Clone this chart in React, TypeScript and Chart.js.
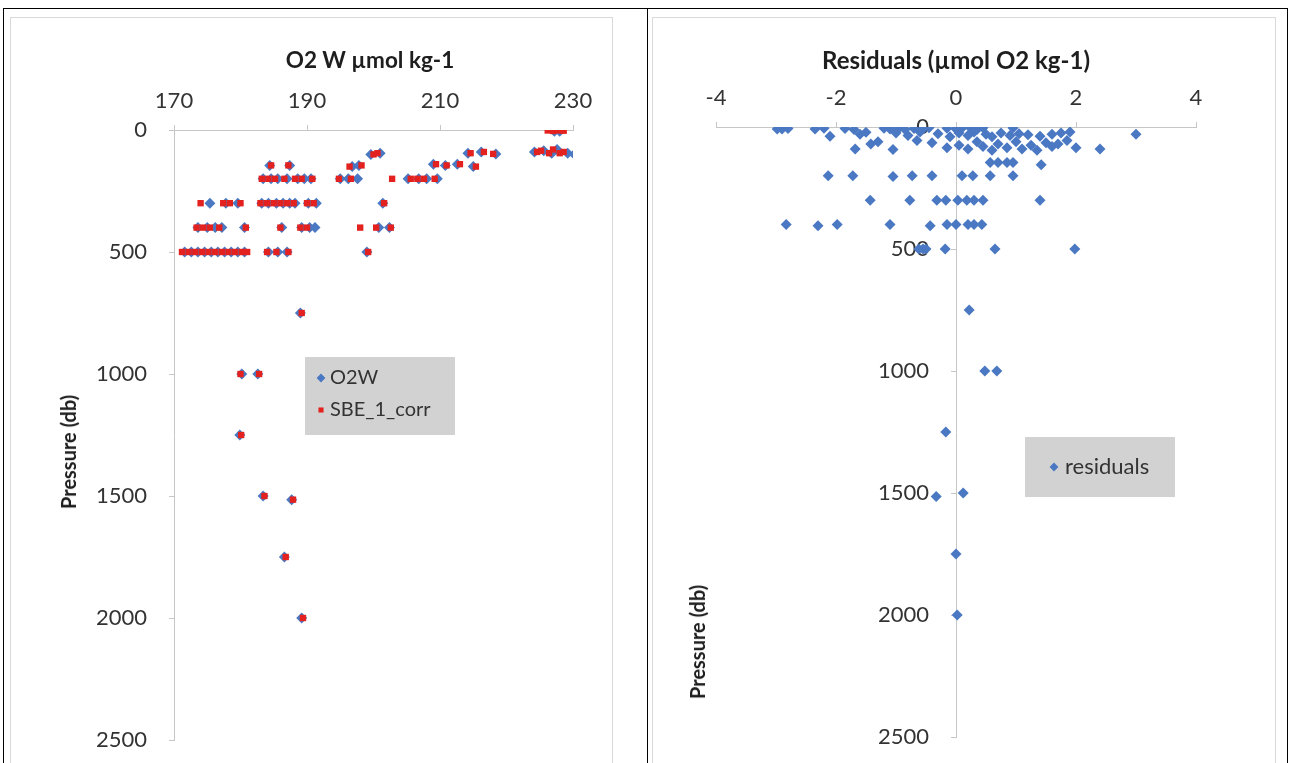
import React, { useEffect, useRef } from 'react';
import { Chart, registerables } from 'chart.js';

Chart.register(...registerables);

// ---------------- DATA ----------------
// Left chart: O2W (bottle oxygen) – pressure (db) and value (µmol/kg)
const o2wPressure = [
  5, 5,
  90, 85, 95, 80, 95, 100,
  95, 90, 98,
  100, 95,
  145, 145, 150, 145, 140, 145, 140, 150,
  200, 200, 200, 200, 200, 200, 200, 200, 200, 200, 200, 200, 200, 200,
  300, 300, 300, 300, 300, 300, 300, 300, 300, 300, 300, 300,
  400, 400, 400, 400, 400, 400, 400, 400, 400, 400, 400,
  500, 500, 500, 500, 500, 500, 500, 500, 500, 500, 500, 500, 500, 500,
  750, 1000, 1000, 1250, 1500, 1515, 1750, 2000,
];
const o2wValue = [
  227.2, 228.0,
  224.2, 225.6, 226.8, 227.6, 229.2, 230.2,
  214.2, 216.2, 218.4,
  199.6, 201.0,
  184.4, 187.4, 196.8, 197.8, 209.0, 210.8, 212.6, 215.0,
  183.4, 184.6, 185.6, 187.0, 188.6, 189.6, 190.6, 195.0, 196.2, 197.6, 205.2, 206.8, 208.0, 209.6,
  175.4, 177.8, 179.6, 183.2, 184.2, 185.4, 186.4, 187.4, 188.2, 190.2, 191.4, 201.4,
  173.6, 175.0, 176.2, 177.2, 180.6, 186.2, 189.2, 190.4, 191.2, 200.8, 202.4,
  171.6, 172.6, 173.6, 174.6, 175.6, 176.6, 177.6, 178.6, 179.6, 180.6, 184.2, 185.6, 187.0, 199.0,
  189.0, 180.2, 182.6, 179.9, 183.4, 187.7, 186.6, 189.2,
];

// Left chart: SBE_1_corr (corrected sensor oxygen)
const sbePressure = [
  2, 4, 2, 3,
  90, 85, 95, 80, 95, 90,
  95, 90, 98,
  100, 95,
  145, 145, 150, 145, 140, 145, 140, 150,
  200, 200, 200, 200, 200, 200, 200, 200, 200, 200, 200, 200, 200, 200,
  300, 300, 300, 300, 300, 300, 300, 300, 300, 300, 300, 300, 300,
  400, 400, 400, 400, 400, 400, 400, 400, 400, 400, 400,
  500, 500, 500, 500, 500, 500, 500, 500, 500, 500, 500, 500, 500, 500, 500,
  750, 1000, 1000, 1250, 1500, 1515, 1750, 2000,
];
const sbeValue = [
  226.2, 227.0, 227.8, 228.6,
  224.6, 225.2, 226.4, 227.0, 228.0, 228.6,
  214.6, 216.6, 218.0,
  200.0, 200.6,
  184.6, 187.2, 196.4, 198.2, 209.4, 211.0, 213.0, 215.4,
  183.2, 184.2, 185.2, 186.6, 188.2, 189.2, 190.8, 194.8, 196.6, 202.8, 205.6, 206.6, 207.6, 209.2,
  174.0, 177.4, 178.4, 180.0, 183.0, 184.0, 185.0, 186.0, 187.0, 188.0, 190.0, 191.0, 201.6,
  173.4, 174.4, 175.4, 176.8, 180.8, 186.0, 189.0, 190.0, 198.0, 200.4, 202.6,
  171.2, 172.2, 173.2, 174.2, 175.2, 176.2, 177.2, 178.2, 179.2, 180.2, 181.0, 184.0, 185.4, 187.2, 199.2,
  189.2, 180.0, 182.8, 180.1, 183.6, 187.9, 186.8, 189.4,
];

// Right chart: residuals (µmol O2 /kg) vs pressure (db)
const residPressure = [
  8, 8, 6, 8, 5, 6, 10, 5, 8, 4, 10, 6, 8, 3, 5, 8, 4, 6, 10, 3, 4,
  38, 30, 22, 25, 35, 20, 28, 40, 25, 35, 20, 30, 40, 25, 35, 28, 32, 38, 30, 25, 20, 30,
  90, 70, 60, 92, 55, 65, 85, 75, 90, 60, 80, 95, 70, 85, 60, 90, 75, 95, 65, 80, 70, 55, 85, 90,
  145, 145, 145, 145, 155,
  200, 200, 203, 200, 200, 200, 200, 200, 200,
  300, 300, 300, 300, 300, 300, 300, 300, 300,
  400, 405, 400, 400, 405, 400, 400, 400, 400, 400,
  500, 500, 500, 500, 500, 500,
  750, 1000, 1000, 1250, 1514, 1500, 1750, 2000,
];
const residValue = [
  -2.98, -2.9, -2.8, -2.35, -2.2, -1.85, -1.7, -1.2, -1.1, -0.95, -0.85, -0.7, -0.55, -0.45, -0.15, 0.0, 0.1, 0.25, 0.35, 0.45, 0.95,
  -2.1, -1.6, -1.5, -1.0, -0.8, -0.6, -0.3, -0.1, 0.05, 0.2, 0.3, 0.5, 0.6, 0.75, 0.9, 1.05, 1.2, 1.4, 1.6, 1.75, 1.9, 3.0,
  -1.68, -1.42, -1.3, -1.05, -0.65, -0.4, -0.15, 0.05, 0.2, 0.35, 0.45, 0.6, 0.7, 0.85, 1.0, 1.1, 1.25, 1.35, 1.5, 1.6, 1.7, 1.85, 2.0, 2.4,
  0.57, 0.7, 0.85, 0.95, 1.42,
  -2.13, -1.72, -1.05, -0.73, -0.4, 0.1, 0.28, 0.57, 0.95,
  -1.43, -0.77, -0.32, -0.17, 0.03, 0.18, 0.3, 0.45, 1.4,
  -2.83, -2.3, -1.98, -1.1, -0.43, -0.15, 0.0, 0.2, 0.3, 0.43,
  -0.62, -0.5, -0.18, 0.65, 1.98, -0.55,
  0.22, 0.48, 0.68, -0.17, -0.33, 0.12, 0.0, 0.02,
];

// Axis ticks
const leftXTicks = [170, 190, 210, 230];
const rightXTicks = [-4, -2, 0, 2, 4];
const pressureTicks = [0, 500, 1000, 1500, 2000, 2500];

const leftTitle = 'O2 W µmol kg-1';
const rightTitle = 'Residuals (µmol O2 kg-1)';
const yTitle = 'Pressure (db)';

// ---------------- STYLE ----------------
const FONT = 'Lato';
const BLUE = '#4a78c2';
const RED = '#e3211f';
const AXIS = '#c6c6c6';
const TICK_COLOR = '#333333';
const TITLE_COLOR = '#1e1e1e';

function drawMarker(ctx: CanvasRenderingContext2D, style: string, x: number, y: number, r: number, color: string) {
  ctx.fillStyle = color;
  ctx.beginPath();
  if (style === 'rectRot') {
    ctx.moveTo(x, y - r);
    ctx.lineTo(x + r, y);
    ctx.lineTo(x, y + r);
    ctx.lineTo(x - r, y);
    ctx.closePath();
  } else {
    const s = r * Math.SQRT1_2;
    ctx.rect(x - s, y - s, 2 * s, 2 * s);
  }
  ctx.fill();
}

const boxLegend = {
  id: 'boxLegend',
  afterDraw(chart: any, _args: any, opts: any) {
    if (!opts || !opts.show) return;
    const ctx = chart.ctx as CanvasRenderingContext2D;
    ctx.save();
    ctx.fillStyle = opts.background;
    ctx.fillRect(opts.left, opts.top, opts.width, opts.height);
    chart.data.datasets.forEach((ds: any, i: number) => {
      const cy = opts.top + opts.firstRow + i * opts.rowGap;
      drawMarker(ctx, ds.pointStyle, opts.left + opts.markerX, cy, ds.pointRadius * 0.8, ds.backgroundColor);
      ctx.fillStyle = TICK_COLOR;
      ctx.font = `${opts.fontSize}px ${FONT}`;
      ctx.textBaseline = 'middle';
      ctx.textAlign = 'left';
      ctx.fillText(ds.label, opts.left + opts.textX, cy);
    });
    ctx.restore();
  },
};

function setTicks(list: number[]) {
  return (scale: any) => {
    scale.ticks = list.map((v) => ({ value: v }));
  };
}

function axisCommon(ticksList: number[], padding: number) {
  return {
    type: 'linear' as const,
    afterBuildTicks: setTicks(ticksList),
    ticks: {
      padding,
      color: TICK_COLOR,
      font: { family: FONT, size: 22 },
      callback: (v: any) => String(v),
    },
    grid: { display: true, drawOnChartArea: false, tickLength: 5, color: AXIS, tickColor: AXIS },
    border: { display: true, color: AXIS, width: 1 },
  };
}

function ChartBox(props: { config: any; left: number; top: number; width: number; height: number }) {
  const ref = useRef<HTMLCanvasElement | null>(null);
  useEffect(() => {
    if (!ref.current) return;
    const chart = new Chart(ref.current, props.config);
    return () => chart.destroy();
  }, []);
  return (
    <div style={{ position: 'absolute', left: props.left, top: props.top, width: props.width, height: props.height }}>
      <canvas ref={ref} />
    </div>
  );
}

const leftConfig = {
  type: 'scatter',
  data: {
    datasets: [
      {
        label: 'O2W',
        data: o2wPressure.map((p, i) => ({ x: o2wValue[i], y: p })),
        pointStyle: 'rectRot',
        pointRadius: 5.5,
        backgroundColor: BLUE,
        borderColor: BLUE,
        borderWidth: 0,
        order: 1,
      },
      {
        label: 'SBE_1_corr',
        data: sbePressure.map((p, i) => ({ x: sbeValue[i], y: p })),
        pointStyle: 'rect',
        pointRadius: 4.5,
        backgroundColor: RED,
        borderColor: RED,
        borderWidth: 0,
        order: 0,
      },
    ],
  },
  plugins: [boxLegend],
  options: {
    animation: false,
    responsive: true,
    maintainAspectRatio: false,
    events: [],
    layout: { padding: { left: 63, top: 52, right: 38, bottom: 38 } },
    plugins: {
      legend: { display: false },
      tooltip: { enabled: false },
      boxLegend: {
        show: true, left: 294, top: 339, width: 150, height: 78,
        background: '#d2d2d2', firstRow: 21, rowGap: 32, markerX: 16, textX: 25, fontSize: 20,
      },
    },
    scales: {
      x: {
        ...axisCommon(leftXTicks, 11),
        position: 'top',
        min: 170,
        max: 230,
        afterFit: (s: any) => { s.height = 60; },
      },
      y: {
        ...axisCommon(pressureTicks, 22),
        position: 'left',
        reverse: true,
        min: 0,
        max: 2500,
        afterFit: (s: any) => { s.width = 100; },
      },
    },
  },
};

const rightConfig = {
  type: 'scatter',
  data: {
    datasets: [
      {
        label: 'residuals',
        data: residPressure.map((p, i) => ({ x: residValue[i], y: p })),
        pointStyle: 'rectRot',
        pointRadius: 5.5,
        backgroundColor: BLUE,
        borderColor: BLUE,
        borderWidth: 0,
        yAxisID: 'y',
      },
    ],
  },
  plugins: [boxLegend],
  options: {
    animation: false,
    responsive: true,
    maintainAspectRatio: false,
    events: [],
    layout: { padding: { left: 63, top: 49, right: 78, bottom: 41 } },
    plugins: {
      legend: { display: false },
      tooltip: { enabled: false },
      boxLegend: {
        show: true, left: 372, top: 419, width: 150, height: 60,
        background: '#d2d2d2', firstRow: 30, rowGap: 32, markerX: 29, textX: 40, fontSize: 22,
      },
    },
    scales: {
      x: {
        ...axisCommon(rightXTicks, 11),
        position: 'top',
        min: -4,
        max: 4,
        afterFit: (s: any) => { s.height = 60; },
      },
      // axis line + tick marks at x = 0
      y: {
        ...axisCommon(pressureTicks, 0),
        position: { x: 0 },
        reverse: true,
        min: 0,
        max: 2500,
        ticks: { display: false },
        afterFit: (s: any) => { s.width = 0; },
      },
      // tick labels, set just left of the x = 0 axis line
      yLabels: {
        ...axisCommon(pressureTicks, 0),
        axis: 'y',
        position: { x: -0.45 },
        reverse: true,
        min: 0,
        max: 2500,
        grid: { display: false },
        border: { display: false },
        afterFit: (s: any) => { s.width = 0; },
      },
    },
  },
};

function Line(props: { left: number; top: number; width: number; height: number; color?: string }) {
  return (
    <div
      style={{
        position: 'absolute',
        left: props.left,
        top: props.top,
        width: props.width,
        height: props.height,
        background: props.color || '#000',
      }}
    />
  );
}

function Title(props: { text: string; x: number; y: number; rotate?: boolean; size: number }) {
  return (
    <div
      style={{
        position: 'absolute',
        left: props.x,
        top: props.y,
        transform: `translate(-50%, -50%)${props.rotate ? ' rotate(-90deg)' : ''}`,
        whiteSpace: 'nowrap',
        fontFamily: FONT,
        fontWeight: 700,
        fontSize: props.size,
        color: TITLE_COLOR,
        lineHeight: 1,
      }}
    >
      {props.text}
    </div>
  );
}

export default function App() {
  return (
    <div
      style={{
        position: 'absolute',
        left: 0,
        top: 0,
        width: 1290,
        height: 763,
        overflow: 'hidden',
        background: '#ffffff',
      }}
    >
      {/* table borders */}
      <Line left={3} top={8} width={1285} height={1} />
      <Line left={3} top={8} width={1} height={760} />
      <Line left={647} top={8} width={1} height={760} />
      <Line left={1287} top={8} width={1} height={760} />

      {/* chart frames */}
      <div style={{ position: 'absolute', left: 10, top: 17, width: 601, height: 800, border: '1px solid #d9d9d9' }} />
      <div style={{ position: 'absolute', left: 652, top: 17, width: 622, height: 800, border: '1px solid #d9d9d9' }} />

      <ChartBox config={leftConfig} left={11} top={18} width={600} height={760} />
      <ChartBox config={rightConfig} left={653} top={18} width={621} height={760} />

      <Title text={leftTitle} x={370} y={60} size={22.5} />
      <Title text={rightTitle} x={956} y={60} size={24} />
      <Title text={yTitle} x={68} y={452} size={20} rotate />
      <Title text={yTitle} x={697} y={642} size={20} rotate />
    </div>
  );
}
